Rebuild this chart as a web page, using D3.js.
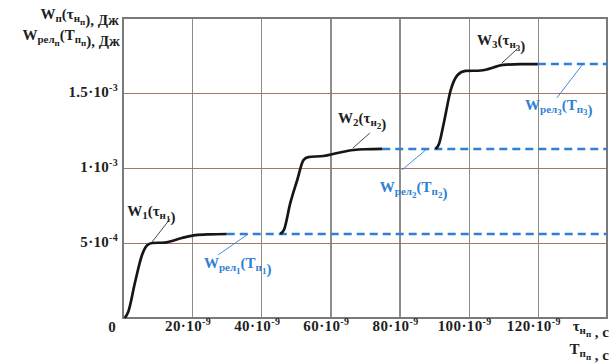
<!DOCTYPE html>
<html>
<head>
<meta charset="utf-8">
<script src="https://cdn.jsdelivr.net/npm/d3@7"></script>
<style>
  body { margin: 0; background: #fff; }
  svg { display: block; }
  text { font-family: "Liberation Serif", "Times New Roman", serif; font-weight: bold; }
  .grid line { shape-rendering: crispEdges; }
  .grid path { display: none; }
</style>
</head>
<body>
<svg id="chart" width="611" height="363"></svg>
<script>
/*************************************************************************/
// data (time in ns, energy in J)

const xTicks = [20, 40, 60, 80, 100, 120];
const yTicks = [5e-4, 1e-3, 1.5e-3];
const yTickText = [['5·10', '-4'], ['1·10', '-3'], ['1.5·10', '-3']];

const curve1 = [[0.5,0],[1.5,0.4e-4],[3.5,2.4e-4],[5.5,4.2e-4],[7,4.85e-4],[8.5,5.0e-4],
                [12,5.03e-4],[17,5.33e-4],[21,5.53e-4],[25,5.58e-4],[30,5.6e-4]];
const curve2 = [[45.5,5.6e-4],[46.6,5.9e-4],[48.4,7.67e-4],[50.4,9.2e-4],[52.2,1.053e-3],
                [53.6,1.073e-3],[58,1.08e-3],[62,1.1e-3],[66.7,1.12e-3],[70,1.125e-3],[75,1.127e-3]];
const curve3 = [[90.4,1.127e-3],[91.4,1.16e-3],[92.8,1.3e-3],[94.8,1.52e-3],[96.8,1.62e-3],
                [99.1,1.647e-3],[103.5,1.65e-3],[110,1.687e-3],[115,1.693e-3],[120,1.693e-3]];

const relStart = [30, 75, 120];
const relLevel = [5.6e-4, 1.127e-3, 1.693e-3];
const relEnd = 140;

// annotation anchors: label position, leader from, leader to
const labelsW = [
    { n: '1', at: [1.2, 6.8e-4], from: [13.6, 6.6e-4], to: [8.4, 5.07e-4] },
    { n: '2', at: [62.2, 1.30e-3], from: [71.4, 1.233e-3], to: [66.5, 1.133e-3] },
    { n: '3', at: [102.4, 1.82e-3], from: [114, 1.793e-3], to: [109.6, 1.7e-3] }
];
const labelsRel = [
    { n: '1', at: [23.4, 3.33e-4], from: [27.5, 4.2e-4], to: [36.2, 5.6e-4] },
    { n: '2', at: [74.3, 8.4e-4], from: [80.7, 9.87e-4], to: [87.9, 1.127e-3] },
    { n: '3', at: [116.3, 1.387e-3], from: [125.5, 1.467e-3], to: [133, 1.693e-3] }
];

/*************************************************************************/

const svg = d3.select('#chart');
const mLeft = 123, mRight = 607, mTop = 18, mBottom = 318;

const x = d3.scaleLinear().domain([0, 140]).range([mLeft, mRight]);
const y = d3.scaleLinear().domain([0, 2e-3]).range([mBottom, mTop]);

// vertical gridlines
svg.append('g')
    .attr('class', 'grid')
    .attr('transform', `translate(0,${mBottom})`)
    .call(d3.axisBottom(x).tickValues(xTicks).tickSize(-(mBottom - mTop)).tickFormat(''))
    .selectAll('line')
    .attr('stroke', '#8c8c8c').attr('stroke-width', 1.4);

// horizontal gridlines
svg.append('g')
    .attr('class', 'grid')
    .attr('transform', `translate(${mLeft},0)`)
    .call(d3.axisLeft(y).tickValues(yTicks).tickSize(-(mRight - mLeft)).tickFormat(''))
    .selectAll('line')
    .attr('stroke', '#a87264').attr('stroke-width', 1.3);

// frame
svg.append('rect')
    .attr('x', mLeft).attr('y', mTop)
    .attr('width', mRight - mLeft).attr('height', mBottom - mTop)
    .attr('fill', 'none').attr('stroke', '#7a7a7a').attr('stroke-width', 1.4)
    .attr('shape-rendering', 'crispEdges');

/*************************************************************************/
// helper to write text with sub/superscripts; parts = [[text, level]]

const lvlSize = { '-1': 10, '0': 15, '1': 11, '2': 9 };
const lvlShift = { '-1': -6, '0': 0, '1': 3, '2': 5.5 };

function richText(g, px, py, parts, color, anchor, spacing){
    const t = g.append('text')
        .attr('x', px).attr('y', py)
        .attr('fill', color)
        .attr('letter-spacing', spacing || 0)
        .attr('text-anchor', anchor || 'start');
    let cur = 0;
    parts.forEach(p => {
        const lv = String(p[1]);
        t.append('tspan')
            .attr('dy', lvlShift[lv] - cur)
            .attr('font-size', lvlSize[lv])
            .text(p[0]);
        cur = lvlShift[lv];
    });
    return t;
}

/*************************************************************************/
// tick labels

const ink = '#1e1e1e';
const labels = svg.append('g');
xTicks.forEach(v => {
    richText(labels, x(v) - 4, 331, [[v + '·10', 0], ['-9', -1]], ink, 'middle', 0.4);
});
richText(labels, 112, 332, [['0', 0]], ink, 'middle');
yTicks.forEach((v, i) => {
    richText(labels, 118, y(v) + 4, [[yTickText[i][0], 0], [yTickText[i][1], -1]], ink, 'end', 0.3);
});

// axis titles
richText(labels, 119, 19, [['W', 0], ['п', 1], ['(τ', 0], ['н', 1], ['п', 2], ['', 0], ['), Дж', 0]], ink, 'end');
richText(labels, 120, 40, [['W', 0], ['рел', 1], ['п', 2], ['(Т', 0], ['п', 1], ['п', 2], ['', 0], ['), Дж', 0]], ink, 'end');
richText(labels, 609, 331, [['τ', 0], ['н', 1], ['п', 2], ['', 0], [' , с', 0]], ink, 'end');
richText(labels, 609, 354, [['Т', 0], ['п', 1], ['п', 2], ['', 0], [' , с', 0]], ink, 'end');

/*************************************************************************/
// relaxation (dashed) lines

const blue = '#2f7fd4';
svg.append('g')
    .selectAll('line')
    .data(relLevel)
    .enter().append('line')
    .attr('x1', (d, i) => x(relStart[i]))
    .attr('x2', x(relEnd))
    .attr('y1', d => y(d))
    .attr('y2', d => y(d))
    .attr('stroke', blue)
    .attr('stroke-width', 2.6)
    .attr('stroke-dasharray', '8 5');

// energy curves
const line = d3.line()
    .x(d => x(d[0]))
    .y(d => y(d[1]))
    .curve(d3.curveMonotoneX);

svg.append('g')
    .selectAll('path')
    .data([curve1, curve2, curve3])
    .enter().append('path')
    .attr('d', line)
    .attr('fill', 'none')
    .attr('stroke', '#161616')
    .attr('stroke-width', 2.7)
    .attr('stroke-linejoin', 'round');

/*************************************************************************/
// annotations

const ann = svg.append('g');

labelsW.forEach(d => {
    ann.append('line')
        .attr('x1', x(d.from[0])).attr('y1', y(d.from[1]))
        .attr('x2', x(d.to[0])).attr('y2', y(d.to[1]))
        .attr('stroke', '#333').attr('stroke-width', 0.9);
    richText(ann, x(d.at[0]), y(d.at[1]),
        [['W', 0], [d.n, 1], ['(τ', 0], ['н', 1], [d.n, 2], ['', 0], [')', 0]], ink);
});

labelsRel.forEach(d => {
    ann.append('line')
        .attr('x1', x(d.from[0])).attr('y1', y(d.from[1]))
        .attr('x2', x(d.to[0])).attr('y2', y(d.to[1]))
        .attr('stroke', blue).attr('stroke-width', 0.9);
    richText(ann, x(d.at[0]), y(d.at[1]),
        [['W', 0], ['рел', 1], [d.n, 2], ['(Т', 0], ['п', 1], [d.n, 2], ['', 0], [')', 0]], blue);
});
</script>
</body>
</html>
